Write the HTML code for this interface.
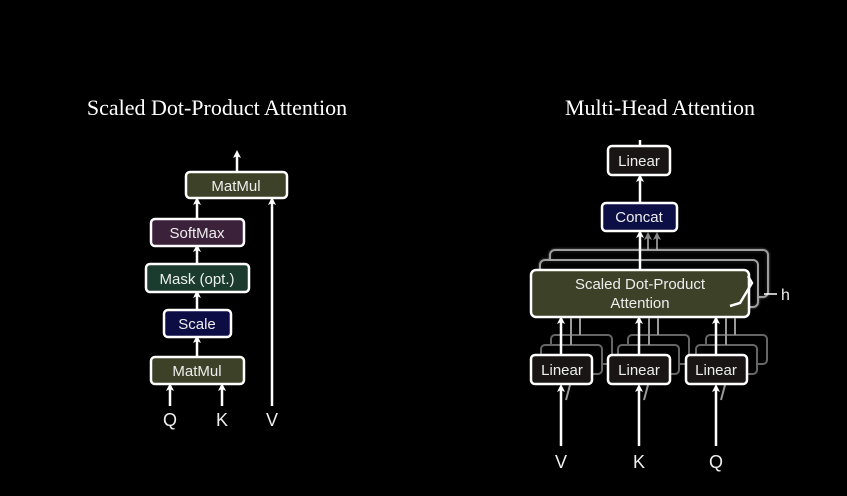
<!DOCTYPE html>
<html><head><style>
html,body{margin:0;padding:0;background:#000;}
svg{display:block}
text{font-family:"Liberation Sans",sans-serif;fill:#eee;}
.t{font-family:"Liberation Serif",serif;font-size:22px;fill:#fff;}
</style></head><body>
<svg width="847" height="496" viewBox="0 0 847 496" xmlns="http://www.w3.org/2000/svg">
<defs>
<marker id="a" markerWidth="8" markerHeight="8" refX="4" refY="4" orient="auto" markerUnits="userSpaceOnUse">
<path d="M0,8 L4,0 L8,8 L4,6 Z" fill="#fff" transform="rotate(90 4 4)"/>
</marker>
<marker id="g" markerWidth="8" markerHeight="8" refX="4" refY="4" orient="auto" markerUnits="userSpaceOnUse">
<path d="M0,8 L4,0 L8,8 L4,6 Z" fill="#888" transform="rotate(90 4 4)"/>
</marker>
<filter id="gl"><feGaussianBlur stdDeviation="1.2"/></filter>
</defs>
<rect width="847" height="496" fill="#000"/>
<text class="t" x="217" y="115" text-anchor="middle">Scaled Dot-Product Attention</text>
<text class="t" x="660" y="115" text-anchor="middle">Multi-Head Attention</text>

<g stroke="#fff" stroke-width="2.5" fill="none">
<line x1="237" y1="172" x2="237" y2="154" marker-end="url(#a)"/>
<line x1="197" y1="218" x2="197" y2="201" marker-end="url(#a)"/>
<line x1="197" y1="263" x2="197" y2="248" marker-end="url(#a)"/>
<line x1="197" y1="309" x2="197" y2="294" marker-end="url(#a)"/>
<line x1="197" y1="356" x2="197" y2="339" marker-end="url(#a)"/>
<line x1="170" y1="406" x2="170" y2="387" marker-end="url(#a)"/>
<line x1="222" y1="406" x2="222" y2="387" marker-end="url(#a)"/>
<line x1="272" y1="406" x2="272" y2="201" marker-end="url(#a)"/>
</g>
<g stroke="#fff" stroke-width="2.5">
<rect x="186" y="172" width="101" height="26" rx="4" fill="#3d4127"/>
<rect x="151" y="219" width="93" height="27" rx="4" fill="#3b2139"/>
<rect x="146" y="264" width="103" height="28" rx="4" fill="#1a3b2d"/>
<rect x="164" y="310" width="67" height="27" rx="4" fill="#0d0d45"/>
<rect x="151" y="357" width="93" height="27" rx="4" fill="#3d4127"/>
</g>
<g font-size="15" text-anchor="middle">
<text x="236" y="191">MatMul</text>
<text x="197" y="238">SoftMax</text>
<text x="197" y="284">Mask (opt.)</text>
<text x="197" y="329">Scale</text>
<text x="197" y="376">MatMul</text>
<text x="170" y="426" font-size="18">Q</text>
<text x="222" y="426" font-size="18">K</text>
<text x="272" y="426" font-size="18">V</text>
</g>

<g stroke="#fff" stroke-width="2.5" fill="none">
<line x1="640" y1="146" x2="640" y2="140"/>
<line x1="640" y1="203" x2="640" y2="178" marker-end="url(#a)"/>
</g>
<g stroke="#888" stroke-width="2" fill="none">
<line x1="648" y1="250" x2="648" y2="236" marker-end="url(#g)"/>
<line x1="657" y1="250" x2="657" y2="236" marker-end="url(#g)"/>
</g>
<g stroke="#bbb" stroke-width="2" fill="#111" opacity="0.6">
<rect x="550" y="250" width="218" height="47" rx="5" filter="url(#gl)"/>
<rect x="540" y="260" width="218" height="47" rx="5" filter="url(#gl)"/>
</g>
<g stroke="#bbb" stroke-width="2" fill="#000" opacity="0.75">
<rect x="550" y="250" width="218" height="47" rx="5"/>
<rect x="540" y="260" width="218" height="47" rx="5"/>
</g>
<line x1="640" y1="270" x2="640" y2="234" stroke="#fff" stroke-width="2.5" marker-end="url(#a)"/>
<rect x="531" y="270" width="218" height="47" rx="5" fill="#3d4127" stroke="#fff" stroke-width="2.5"/>
<text x="640" y="289" font-size="15" text-anchor="middle">Scaled Dot-Product</text>
<text x="640" y="308" font-size="15" text-anchor="middle">Attention</text>
<path d="M748,276 L752,283 L740,303 L730,306" stroke="#fff" stroke-width="2.5" fill="none"/>
<line x1="764" y1="294" x2="777" y2="294" stroke="#fff" stroke-width="1.5"/>
<text x="781" y="300" font-size="16">h</text>

<rect x="608" y="146" width="62" height="29" rx="4" fill="#1a1515" stroke="#fff" stroke-width="2.5"/>
<text x="639" y="166" font-size="15" text-anchor="middle">Linear</text>
<rect x="602" y="203" width="75" height="28" rx="4" fill="#0c0f45" stroke="#fff" stroke-width="2.5"/>
<text x="639" y="222" font-size="15" text-anchor="middle">Concat</text>

<g>
<g stroke="#aaa" stroke-width="2" fill="#000" opacity="0.6">
<rect x="551" y="335" width="61" height="29" rx="4"/><rect x="541" y="345" width="61" height="29" rx="4"/>
<rect x="628" y="335" width="61" height="29" rx="4"/><rect x="618" y="345" width="61" height="29" rx="4"/>
<rect x="706" y="335" width="61" height="29" rx="4"/><rect x="696" y="345" width="61" height="29" rx="4"/>
</g>
<g stroke="#999" stroke-width="2">
<line x1="571" y1="345" x2="571" y2="318"/><line x1="580" y1="335" x2="580" y2="318"/>
<line x1="649" y1="345" x2="649" y2="318"/><line x1="658" y1="335" x2="658" y2="318"/>
<line x1="726" y1="345" x2="726" y2="318"/><line x1="735" y1="335" x2="735" y2="318"/>
<line x1="566" y1="400" x2="570" y2="385"/><line x1="644" y1="400" x2="648" y2="385"/><line x1="721" y1="400" x2="725" y2="385"/>
</g>
<g stroke="#fff" stroke-width="2.5" fill="none">
<line x1="561" y1="355" x2="561" y2="320" marker-end="url(#a)"/>
<line x1="639" y1="355" x2="639" y2="320" marker-end="url(#a)"/>
<line x1="716" y1="355" x2="716" y2="320" marker-end="url(#a)"/>
<line x1="561" y1="446" x2="561" y2="388" marker-end="url(#a)"/>
<line x1="639" y1="446" x2="639" y2="388" marker-end="url(#a)"/>
<line x1="716" y1="446" x2="716" y2="388" marker-end="url(#a)"/>
</g>
<g stroke="#fff" stroke-width="2.5" fill="#1a1515">
<rect x="531" y="355" width="61" height="29" rx="4"/>
<rect x="608" y="355" width="62" height="29" rx="4"/>
<rect x="686" y="355" width="61" height="29" rx="4"/>
</g>
<g font-size="15" text-anchor="middle">
<text x="562" y="375">Linear</text><text x="639" y="375">Linear</text><text x="716" y="375">Linear</text>
<text x="561" y="468" font-size="18">V</text><text x="639" y="468" font-size="18">K</text><text x="716" y="468" font-size="18">Q</text>
</g>
</g>
</svg>
</body></html>
